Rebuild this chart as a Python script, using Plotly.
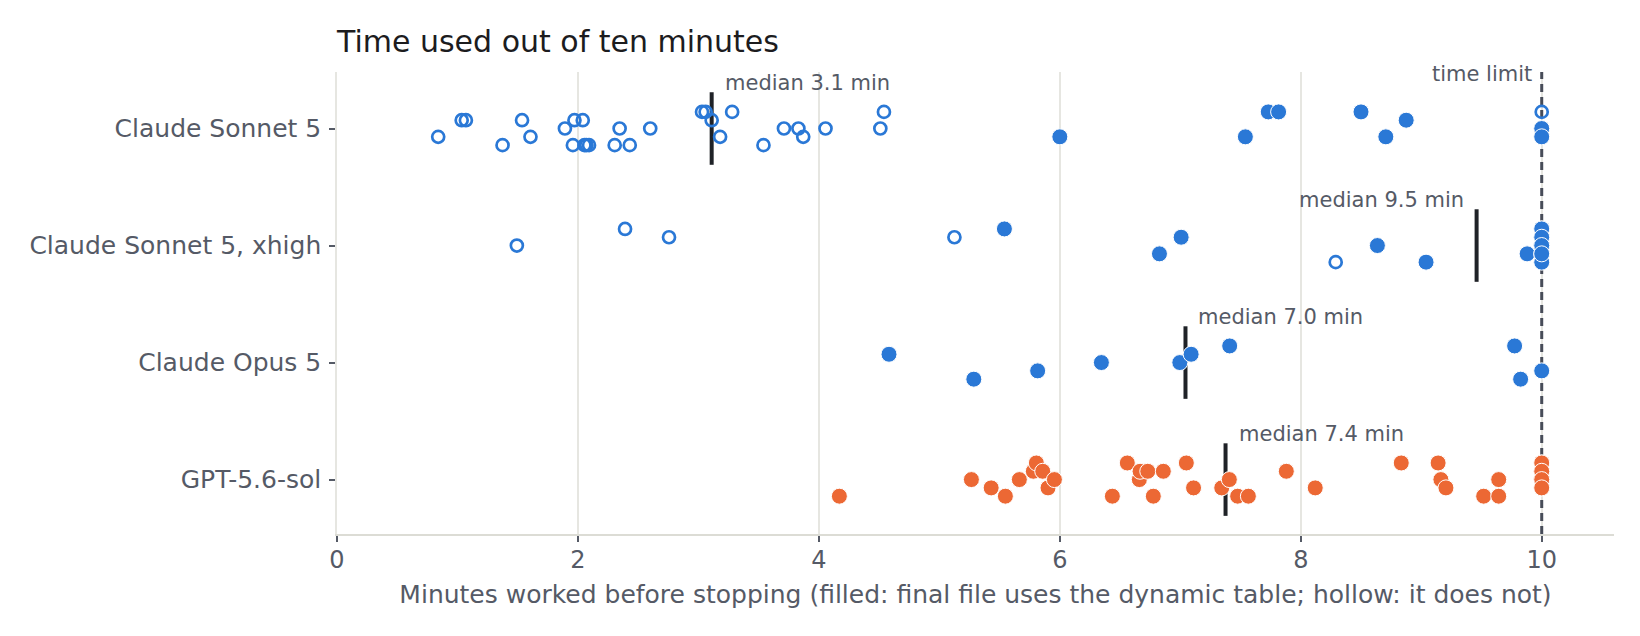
import numpy as np
import plotly.graph_objects as go

# Rows, top to bottom
models = ["Claude Sonnet 5", "Claude Sonnet 5, xhigh", "Claude Opus 5", "GPT-5.6-sol"]
model_colors = ["#2a78d6", "#2a78d6", "#2a78d6", "#ec6834"]

# Minutes worked per run; filled = final file uses the dynamic table;
# jitter = swarm lane of the dot inside its row (-2 top .. +2 bottom)
sonnet5_minutes = [0.84, 1.035, 1.07, 1.374, 1.536, 1.606, 1.892, 1.958, 1.971, 2.04,
                   2.054, 2.07, 2.092, 2.305, 2.346, 2.43, 2.60, 3.03, 3.06, 3.11,
                   3.18, 3.28, 3.54, 3.71, 3.83, 3.87, 4.055, 4.51, 4.54, 6.0,
                   7.54, 7.73, 7.816, 8.5, 8.706, 8.875, 10.0, 10.0, 10.0]
sonnet5_filled = [0] * 29 + [1] * 7 + [0, 1, 1]
sonnet5_jitter = [1, -1, -1, 2, -1, 1, 0, 2, -1, -1,
                  2, 2, 2, 2, 0, 2, 0, -2, -2, -1,
                  1, -2, 2, 0, 0, 1, 0, 0, -2, 1,
                  1, -2, -2, -2, 1, -1, -2, 0, 1]

xhigh_minutes = [1.493, 2.391, 2.756, 5.125, 5.54, 6.827, 7.007, 8.29, 8.636, 9.04,
                 9.879, 10.0, 10.0, 10.0, 10.0, 10.0, 10.0, 10.0, 10.0, 10.0]
xhigh_filled = [0, 0, 0, 0, 1, 1, 1, 0, 1, 1,
                1, 1, 1, 1, 1, 1, 1, 1, 1, 1]
xhigh_jitter = [0, -2, -1, -1, -2, 1, -1, 2, 0, 2,
                1, -2, -1, 0, 1, 2, -2, -1, 0, 1]

opus5_minutes = [4.582, 5.286, 5.816, 6.345, 6.996, 7.09, 7.41, 9.775, 9.825, 10.0]
opus5_filled = [1] * 10
opus5_jitter = [-1, 2, 1, 0, 0, -1, -2, -2, 2, 1]

gpt_minutes = [4.17, 5.266, 5.43, 5.548, 5.664, 5.78, 5.805, 5.858, 5.902, 5.955,
               6.436, 6.56, 6.66, 6.666, 6.73, 6.776, 6.859, 7.05, 7.11, 7.344,
               7.407, 7.476, 7.565, 7.88, 8.12, 8.834, 9.14, 9.163, 9.205, 9.518,
               9.643, 9.643, 10.0, 10.0, 10.0, 10.0, 10.0, 10.0, 10.0, 10.0]
gpt_filled = [1] * 40
gpt_jitter = [2, 0, 1, 2, 0, -1, -2, -1, 1, 0,
              2, -2, 0, -1, -1, 2, -1, -2, 1, 1,
              0, 2, 2, -1, 1, -2, -2, 0, 1, 2,
              0, 2, -2, -1, 0, 1, -2, -1, 0, 1]

time_limit = 10
x_ticks = [0, 2, 4, 6, 8, 10]

LANE_STEP = 0.071
Y_RANGE = [3.465, -0.483]
FONT = "DejaVu Sans"
GREY_TEXT = "#555a66"

rows = [
    (sonnet5_minutes, sonnet5_filled, sonnet5_jitter),
    (xhigh_minutes, xhigh_filled, xhigh_jitter),
    (opus5_minutes, opus5_filled, opus5_jitter),
    (gpt_minutes, gpt_filled, gpt_jitter),
]

fig = go.Figure()

# Lines go in first as traces, so they sit above the grid but under the dots
fig.add_trace(go.Scatter(x=[time_limit, time_limit], y=Y_RANGE, mode="lines",
                         line=dict(color="#474c58", width=3, dash="8px,5px"),
                         hoverinfo="skip", showlegend=False))
fig.add_annotation(x=time_limit, y=1, yref="paper", text="time limit", showarrow=False,
                   xanchor="right", xshift=-8, yanchor="middle", yshift=-2,
                   font=dict(family=FONT, size=21, color=GREY_TEXT))

for i, (minutes, filled, jitter) in enumerate(rows):
    med = float(np.median(minutes))
    fig.add_trace(go.Scatter(x=[med, med], y=[i - 0.31, i + 0.31], mode="lines",
                             line=dict(color="#1f2227", width=4),
                             hoverinfo="skip", showlegend=False))
    near_edge = med > 8.5
    fig.add_annotation(x=med, y=i - 0.39, text=f"median {med:.1f} min",
                       showarrow=False, xanchor="right" if near_edge else "left",
                       xshift=-11 if near_edge else 11, yanchor="middle",
                       font=dict(family=FONT, size=21, color=GREY_TEXT))

for i, (minutes, filled, jitter) in enumerate(rows):
    x = np.array(minutes)
    y = i + np.array(jitter) * LANE_STEP
    mask = np.array(filled, dtype=bool)
    color = model_colors[i]
    fig.add_trace(go.Scatter(x=x[~mask], y=y[~mask], mode="markers", name=models[i],
                             marker=dict(symbol="circle-open", size=12, color=color,
                                         line=dict(width=2.7)),
                             showlegend=False))
    fig.add_trace(go.Scatter(x=x[mask], y=y[mask], mode="markers", name=models[i],
                             marker=dict(symbol="circle", size=16, color=color,
                                         line=dict(width=1, color="white")),
                             showlegend=False))

fig.update_layout(
    width=1640, height=636,
    margin=dict(l=329, r=34, t=64, b=110),
    paper_bgcolor="white", plot_bgcolor="white",
    font=dict(family=FONT, color=GREY_TEXT),
    title=dict(text="Time used out of ten minutes", x=0, xref="paper", xanchor="left",
               y=1 - 33 / 636, yanchor="middle",
               font=dict(family=FONT, size=30, color="#1c1c1e")),
)
fig.update_xaxes(range=[0, 10.6], tickvals=x_ticks, showgrid=True, gridcolor="#e6e6e1",
                 gridwidth=1.5, zeroline=False, showline=True, linecolor="#dcdcd5",
                 linewidth=2, ticks="outside", ticklen=6, tickcolor="#555a66",
                 tickwidth=1.5, ticklabelstandoff=-3,
                 tickfont=dict(size=24, color=GREY_TEXT),
                 title=dict(text="Minutes worked before stopping (filled: final file uses "
                                 "the dynamic table; hollow: it does not)",
                            font=dict(size=25, color=GREY_TEXT), standoff=13))
fig.update_yaxes(range=Y_RANGE, tickvals=list(range(len(models))), ticktext=models,
                 showgrid=False, zeroline=False, showline=True, linecolor="#e6e6e1",
                 linewidth=1.5, ticks="outside", ticklen=6, tickcolor="#555a66",
                 tickwidth=1.5, ticklabelstandoff=3,
                 tickfont=dict(size=25, color=GREY_TEXT))

fig.write_html("out.html")
